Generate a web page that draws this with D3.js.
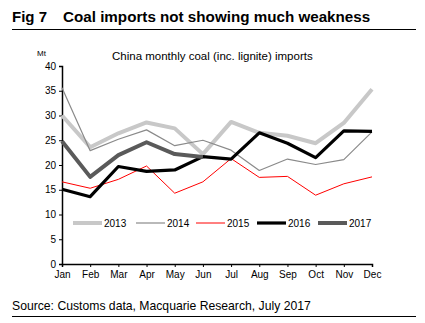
<!DOCTYPE html>
<html>
<head>
<meta charset="utf-8">
<script src="https://cdn.jsdelivr.net/npm/d3@7"></script>
<style>
  body { margin: 0; background: #fff; }
  svg { display: block; font-family: Arial, "Liberation Sans", sans-serif; }
</style>
</head>
<body>
<div id="chart"></div>
<script>
const months = ['Jan', 'Feb', 'Mar', 'Apr', 'May', 'Jun', 'Jul', 'Aug', 'Sep', 'Oct', 'Nov', 'Dec']
const yTicks = [0, 5, 10, 15, 20, 25, 30, 35, 40]

const y2013 = [30, 23.6, 26.4, 28.6, 27.4, 22.2, 28.7, 26.5, 25.9, 24.4, 28.5, 35.3]
const y2014 = [35.6, 22.9, 25.2, 27.1, 23.9, 25.0, 23.0, 18.9, 21.2, 20.1, 21.1, 26.7]
const y2015 = [16.6, 15.3, 17.1, 19.8, 14.3, 16.6, 21.3, 17.5, 17.7, 13.9, 16.2, 17.6]
const y2016 = [15.1, 13.6, 19.7, 18.7, 19.0, 21.7, 21.2, 26.5, 24.4, 21.5, 26.9, 26.8]
const y2017 = [24.8, 17.6, 22.0, 24.6, 22.2, 21.6]

const series = [
  {name: '2013', values: y2013, color: '#c8c8c8', width: 4},
  {name: '2014', values: y2014, color: '#8a8a8a', width: 1.2},
  {name: '2015', values: y2015, color: '#ff0000', width: 1},
  {name: '2016', values: y2016, color: '#000000', width: 3.2},
  {name: '2017', values: y2017, color: '#5a5a5a', width: 4}
]

const width = 425
const height = 323
const margin = {left: 62, right: 53, top: 66, bottom: 59}

const x = d3.scalePoint().domain(months).range([margin.left, width - margin.right])
const y = d3.scaleLinear().domain([0, 40]).range([height - margin.bottom, margin.top])

const svg = d3.select('#chart').append('svg')
  .attr('width', width)
  .attr('height', height)

// heading
svg.append('text')
  .attr('x', 12).attr('y', 22)
  .attr('font-size', 15).attr('font-weight', 'bold')
  .attr('fill', '#000')
  .text('Fig 7')
svg.append('text')
  .attr('x', 63).attr('y', 22)
  .attr('font-size', 15.2).attr('font-weight', 'bold')
  .attr('fill', '#000')
  .text('Coal imports not showing much weakness')
svg.append('line')
  .attr('x1', 12).attr('x2', 416)
  .attr('y1', 29.5).attr('y2', 29.5)
  .attr('stroke', '#000').attr('stroke-width', 1)

svg.append('text')
  .attr('x', 112).attr('y', 60)
  .attr('font-size', 11.5)
  .text('China monthly coal (inc. lignite) imports')

svg.append('text')
  .attr('x', 37).attr('y', 56)
  .attr('font-size', 8)
  .text('Mt')

// axes
const yAxis = d3.axisLeft(y).tickValues(yTicks).tickSize(3).tickPadding(3)
const yg = svg.append('g')
  .attr('transform', `translate(${margin.left},0)`)
  .call(yAxis)
yg.select('.domain').attr('stroke-width', 1.5)
yg.selectAll('text').attr('font-size', 10).attr('fill', '#000')

const xAxis = d3.axisBottom(x).tickSize(3).tickPadding(4)
const xg = svg.append('g')
  .attr('transform', `translate(0,${height - margin.bottom})`)
  .call(xAxis)
xg.select('.domain').attr('stroke-width', 1.5)
xg.selectAll('text').attr('font-size', 10).attr('fill', '#000')

// lines
const line = d3.line()
  .x((d, i) => x(months[i]))
  .y(d => y(d))

svg.selectAll('.series')
  .data(series)
  .enter()
  .append('path')
  .attr('class', 'series')
  .attr('d', d => line(d.values))
  .attr('fill', 'none')
  .attr('stroke', d => d.color)
  .attr('stroke-width', d => d.width)
  .attr('stroke-linejoin', 'round')

// legend
const legendX = [73, 136, 196, 257, 318]
const legend = svg.selectAll('.legend')
  .data(series)
  .enter()
  .append('g')
  .attr('class', 'legend')
  .attr('transform', (d, i) => `translate(${legendX[i]},223)`)
legend.append('line')
  .attr('x1', 0).attr('x2', 29)
  .attr('stroke', d => d.color)
  .attr('stroke-width', d => d.width)
legend.append('text')
  .attr('x', 31).attr('y', 3.5)
  .attr('font-size', 10)
  .text(d => d.name)

// source
svg.append('text')
  .attr('x', 12).attr('y', 310)
  .attr('font-size', 12.2)
  .text('Source: Customs data, Macquarie Research, July 2017')
svg.append('line')
  .attr('x1', 12).attr('x2', 416)
  .attr('y1', 316.5).attr('y2', 316.5)
  .attr('stroke', '#000').attr('stroke-width', 1)
</script>
</body>
</html>
